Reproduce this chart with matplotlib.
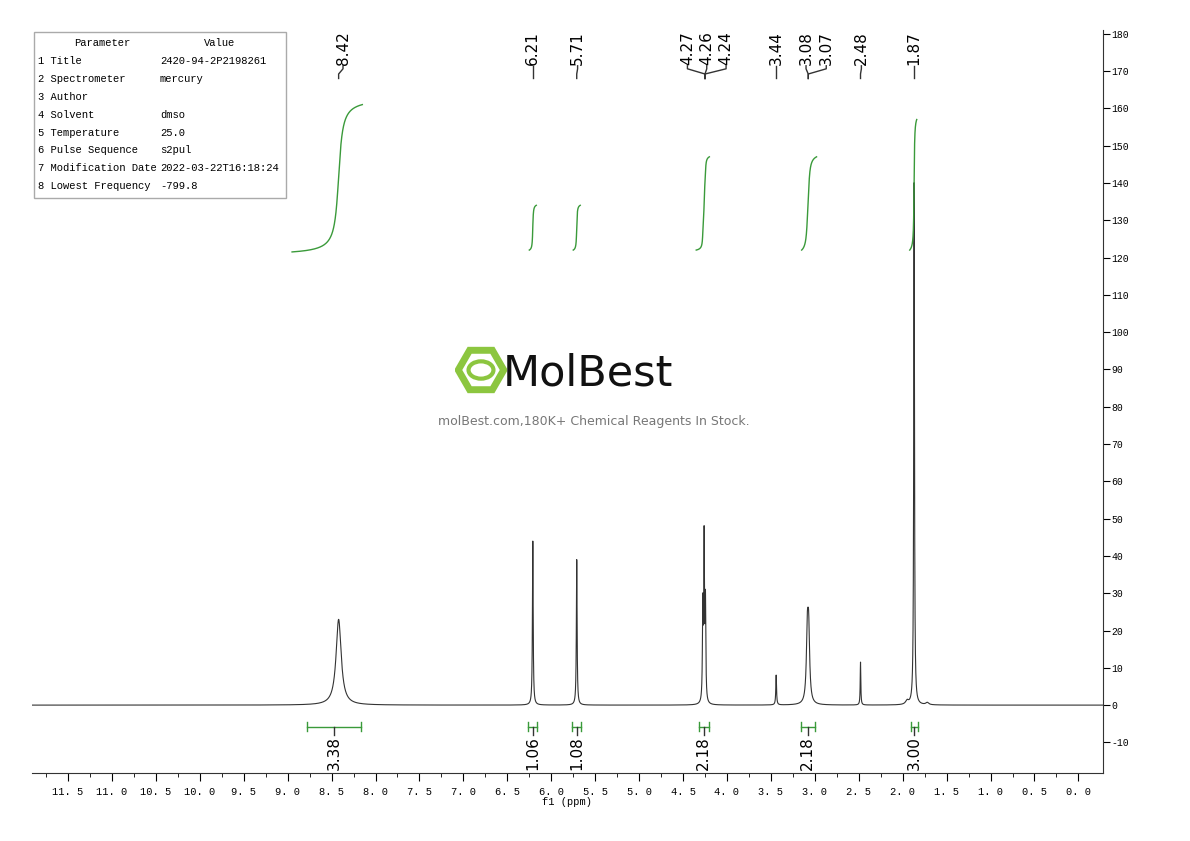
import numpy as np
import matplotlib.pyplot as plt
from matplotlib.patches import RegularPolygon, Ellipse

# peak list: position (ppm), height, half width (ppm)
peak_ppm = [8.42, 6.21, 5.71, 4.275, 4.26, 4.245, 3.44, 3.085, 3.07, 2.48, 1.87, 1.95, 1.72]
peak_height = [23.0, 44.0, 39.0, 25.0, 43.0, 26.0, 8.0, 17.5, 17.5, 11.5, 140.0, 1.0, 0.6]
peak_width = [0.035, 0.005, 0.005, 0.005, 0.005, 0.005, 0.005, 0.013, 0.013, 0.004, 0.005, 0.02, 0.02]

# integral regions: start, end (ppm), curve start/end level, label value
int_start = [8.95, 6.25, 5.75, 4.35, 3.15, 1.92]
int_end = [8.15, 6.17, 5.67, 4.20, 2.98, 1.84]
int_low = [121.5, 122.0, 122.0, 122.0, 122.0, 122.0]
int_high = [161.0, 134.0, 134.0, 147.0, 147.0, 157.0]
int_brk_l = [8.78, 6.26, 5.76, 4.32, 3.16, 1.91]
int_brk_r = [8.16, 6.16, 5.66, 4.21, 3.00, 1.83]
int_label = ["3.38", "1.06", "1.08", "2.18", "2.18", "3.00"]

# peak labels: text, label position, peak position
lbl_text = ["8.42", "6.21", "5.71", "4.27", "4.26", "4.24", "3.44", "3.08", "3.07", "2.48", "1.87"]
lbl_x = [8.37, 6.21, 5.70, 4.45, 4.23, 4.01, 3.44, 3.10, 2.87, 2.47, 1.87]
lbl_peak = [8.42, 6.21, 5.71, 4.25, 4.25, 4.25, 3.44, 3.075, 3.075, 2.48, 1.87]

params = ["Parameter", "1 Title", "2 Spectrometer", "3 Author", "4 Solvent",
          "5 Temperature", "6 Pulse Sequence", "7 Modification Date", "8 Lowest Frequency"]
values = ["Value", "2420-94-2P2198261", "mercury", "", "dmso", "25.0", "s2pul",
          "2022-03-22T16:18:24", "-799.8"]

green = "#3a9a3a"
mono = ["Liberation Mono", "DejaVu Sans Mono"]

ppm = np.linspace(11.95, -0.3, 30000)
spec = np.zeros_like(ppm)
for p, h, w in zip(peak_ppm, peak_height, peak_width):
    spec += h / (1 + ((ppm - p) / w) ** 2)

fig = plt.figure(figsize=(11.9, 8.41), dpi=100)
ax = fig.add_axes([32 / 1190, 1 - 773 / 841, (1103 - 32) / 1190, (773 - 30) / 841])
ax.plot(ppm, spec, color="#333333", lw=0.8)

# integral curves
for s, e, lo, hi in zip(int_start, int_end, int_low, int_high):
    m = (ppm <= s) & (ppm >= e)
    c = np.cumsum(spec[m])
    c = (c - c[0]) / (c[-1] - c[0])
    ax.plot(ppm[m], lo + c * (hi - lo), color=green, lw=1.0)

# integral brackets and labels
for l, r, t in zip(int_brk_l, int_brk_r, int_label):
    mid = (l + r) / 2
    ax.plot([l, r], [-5.8, -5.8], color=green, lw=1.0)
    ax.plot([l, l], [-4.6, -7.0], color=green, lw=1.0)
    ax.plot([r, r], [-4.6, -7.0], color=green, lw=1.0)
    ax.plot([mid, mid], [-5.8, -8.0], color="#333333", lw=1.0)
    ax.text(mid, -8.3, t, rotation=90, ha="center", va="top", fontsize=11)

# peak labels
for t, lx, px in zip(lbl_text, lbl_x, lbl_peak):
    ax.text(lx, 171.6, t, rotation=90, ha="center", va="bottom", fontsize=11)
    ax.plot([lx, lx, px, px], [171.4, 170.6, 169.2, 168.0], color="#333333", lw=1.0)

ax.set_xlim(11.91, -0.28)
ax.set_ylim(-18.2, 181)
for s in ["left", "top"]:
    ax.spines[s].set_visible(False)
ax.spines["right"].set_color("#333333")
ax.spines["bottom"].set_color("#333333")
ax.yaxis.tick_right()
ax.set_yticks(np.arange(-10, 181, 10))
ax.set_yticklabels([str(v) for v in range(-10, 181, 10)], fontsize=7, family=mono)
ax.tick_params(axis="y", direction="out", length=5, pad=1)
xt = np.arange(0, 11.6, 0.5)
ax.set_xticks(xt)
ax.set_xticklabels([("%.1f" % v).replace(".", ". ") for v in xt], fontsize=7.5, family=mono)
ax.set_xticks(np.arange(0.25, 11.8, 0.5), minor=True)
ax.tick_params(axis="x", which="major", length=6, pad=4)
ax.tick_params(axis="x", which="minor", length=3)
ax.set_xlabel("f1 (ppm)", fontsize=7.5, family=mono, labelpad=0)

# parameter table
fig.patches.append(plt.Rectangle((34 / 1190, 1 - 198 / 841), 252 / 1190, 166 / 841,
                                 transform=fig.transFigure, fill=False, ec="#aaaaaa", lw=1))
for i, (p, v) in enumerate(zip(params, values)):
    y = 1 - (43 + i * 17.9) / 841
    if i == 0:
        fig.text(102 / 1190, y, p, ha="center", va="center", fontsize=7.6, family=mono)
        fig.text(220 / 1190, y, v, ha="center", va="center", fontsize=7.6, family=mono)
    else:
        fig.text(38 / 1190, y, p, ha="left", va="center", fontsize=7.6, family=mono)
        fig.text(160 / 1190, y, v, ha="left", va="center", fontsize=7.6, family=mono)

# watermark
lax = fig.add_axes([452 / 1190, 1 - 396 / 841, 58 / 1190, 52 / 841])
lax.set_aspect("equal")
lax.axis("off")
lax.add_patch(RegularPolygon((0, 0), 6, radius=1.05, orientation=np.pi / 6,
                             fc="none", ec="#8cc63f", lw=5))
lax.add_patch(Ellipse((0, 0), 1.15, 0.8, fc="none", ec="#8cc63f", lw=3))
lax.set_xlim(-1.2, 1.2)
lax.set_ylim(-1.2, 1.2)
fig.text(588 / 1190, 1 - 374 / 841, "MolBest", ha="center", va="center", fontsize=31,
         family="DejaVu Sans", color="#111111")
fig.text(594 / 1190, 1 - 421 / 841, "molBest.com,180K+ Chemical Reagents In Stock.",
         ha="center", va="center", fontsize=9, color="#777777")

fig.savefig("out.png", dpi=100)
